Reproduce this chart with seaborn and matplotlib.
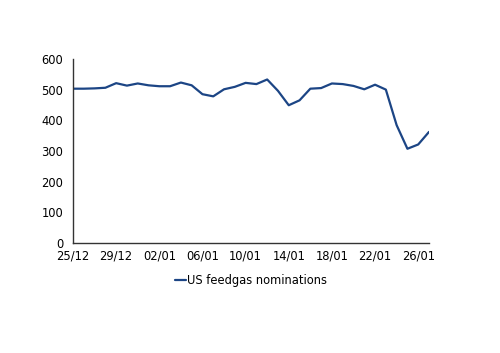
import numpy as np
import pandas as pd

import matplotlib
matplotlib.use("Agg")

import matplotlib.pyplot as plt
import matplotlib.dates as mdates
import seaborn as sns

# ------------------------ DATA --------------------------

DATES = pd.date_range("2023-12-25", "2024-01-27", freq="D")
NOMINATIONS = [
    503, 503, 504, 506, 521, 513, 520, 514, 511, 511,
    523, 514, 485, 478, 501, 509, 522, 518, 533, 496,
    449, 465, 503, 505, 520, 518, 512, 501, 516, 500,
    384, 307, 321, 362,
]
SERIES_NAME = "US feedgas nominations"
Y_TICKS = [0, 100, 200, 300, 400, 500, 600]

LINE_COLOR = "#1c4585"
AXIS_COLOR = "#333333"


def main():
    sns.set_style("white")
    plt.rcParams["font.family"] = ["DejaVu Sans"]
    plt.rcParams["text.color"] = "black"
    plt.rcParams["xtick.color"] = "black"
    plt.rcParams["ytick.color"] = "black"

    df = pd.DataFrame({"date": DATES, "value": NOMINATIONS, "series": SERIES_NAME})

    fig = plt.figure(figsize=(5.0, 3.53), dpi=100)
    ax = fig.add_axes([0.146, 0.312, 0.712, 0.521])

    sns.lineplot(data=df, x="date", y="value", hue="series",
                 palette=[LINE_COLOR], linewidth=1.6, ax=ax)

    ax.set_xlim(DATES[0], DATES[-1])
    ax.set_ylim(0, 600)
    ax.set_yticks(Y_TICKS)
    ax.set_xticks(DATES[::4])
    ax.xaxis.set_major_formatter(mdates.DateFormatter("%d/%m"))
    ax.set_xlabel("")
    ax.set_ylabel("")

    for side in ["top", "right"]:
        ax.spines[side].set_visible(False)
    for side in ["left", "bottom"]:
        ax.spines[side].set_color(AXIS_COLOR)
        ax.spines[side].set_linewidth(1.0)

    ax.tick_params(axis="y", direction="out", length=4, width=1,
                   color=AXIS_COLOR, labelcolor="black", labelsize=8.3, pad=3)
    ax.tick_params(axis="x", direction="in", length=4, width=1,
                   color=AXIS_COLOR, labelcolor="black", labelsize=8.3, pad=5)

    leg = ax.legend(loc="upper center", bbox_to_anchor=(0.5, -0.115), frameon=False,
                    fontsize=8.3, handlelength=0.9, handletextpad=0.1)
    for txt in leg.get_texts():
        txt.set_color("black")

    fig.savefig("out.png", dpi=100)
    plt.close(fig)


if __name__ == "__main__":
    main()
